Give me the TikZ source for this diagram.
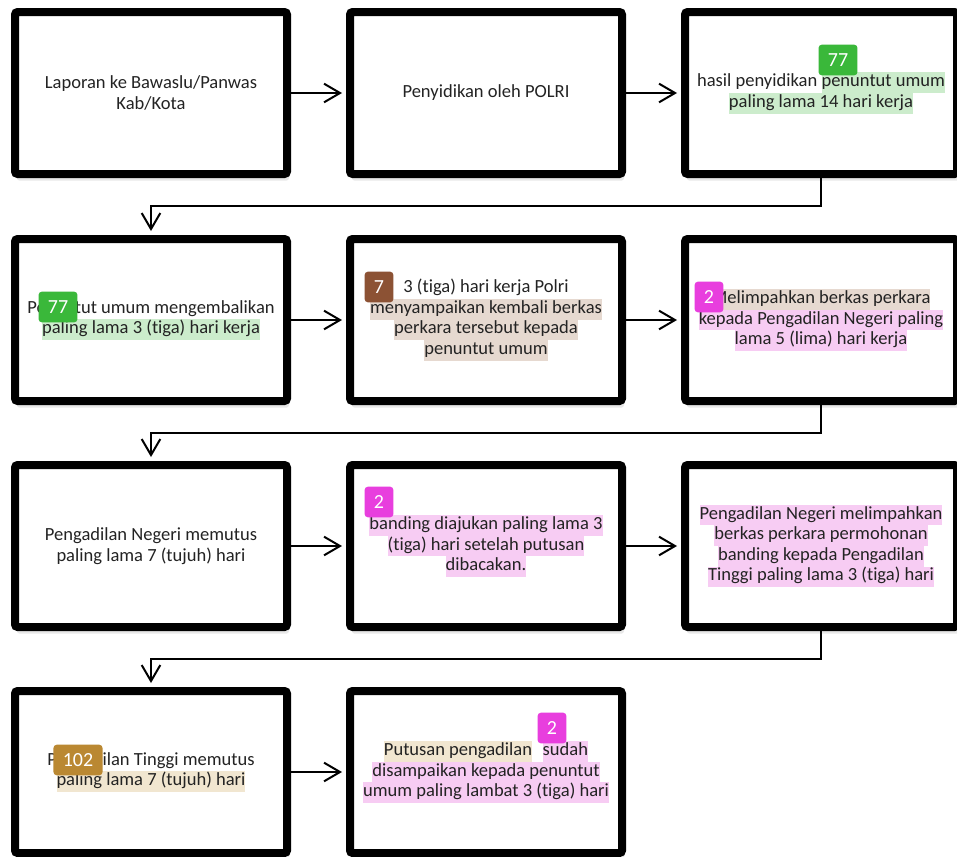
\documentclass[tikz,border=0pt]{standalone}
\usepackage{fontspec}
\setmainfont{Carlito}[Ligatures=NoCommon]
\usepackage{xcolor}
\usepackage{tikz}
\usetikzlibrary{positioning,arrows.meta,shadows}
\definecolor{tandahijau}{RGB}{58,184,58}
\definecolor{tandacoklat}{RGB}{140,82,52}
\definecolor{tandaungu}{RGB}{232,62,222}
\definecolor{tandaemas}{RGB}{186,136,50}
\definecolor{sorothijau}{RGB}{204,236,204}
\definecolor{sorotcoklat}{RGB}{230,217,208}
\definecolor{sorotungu}{RGB}{247,204,243}
\definecolor{sorotemas}{RGB}{241,230,208}
\definecolor{teks}{RGB}{35,35,35}
\newcommand{\sorot}[2]{{\setlength{\fboxsep}{0pt}\colorbox{#1}{\strut #2}}}

\begin{document}
\begin{tikzpicture}[
	x=0.75pt, y=-0.75pt,
	langkah/.style={ % kotak tahapan
		draw=black, line width=6pt,
		rounded corners=2pt, fill=white,
		minimum width=204pt, minimum height=121.5pt,
		align=center, text=teks, inner xsep=2pt,
		font=\fontsize{13.9}{15.4}\selectfont,
		drop shadow={shadow xshift=1.5pt, shadow yshift=-5pt, opacity=0.18}
	},
	tanda/.style={ % label angka berwarna
		rounded corners=2.5pt, text=white,
		inner xsep=7pt, inner ysep=0pt,
		minimum height=23pt, minimum width=19.5pt,
		font=\fontsize{15}{15}\selectfont
	},
	panah/.style={ % panah antar tahapan
		-{Straight Barb[length=12pt,width=14pt]},
		line width=1.5pt, shorten >=3pt
	}
	]
	\useasboundingbox (0,0) rectangle (957,857);
	
	% ================= BARIS 1 =================
	\node[langkah] (b11) at (151,93) {Laporan ke Bawaslu/Panwas\\Kab/Kota};
	\node[langkah] (b12) at (486,93) {Penyidikan oleh POLRI};
	\node[langkah] (b13) at (821,93) {hasil penyidikan \sorot{sorothijau}{penuntut umum}\\\sorot{sorothijau}{paling lama 14 hari kerja}};
	\draw[panah] (b11) -- (b12);
	\draw[panah] (b12) -- (b13);
	
	% ================= BARIS 2 =================
	\node[langkah] (b21) at (151,320) {Penuntut umum mengembalikan\\\sorot{sorothijau}{paling lama 3 (tiga) hari kerja}};
	\node[langkah] (b22) at (486,320) {3 (tiga) hari kerja Polri\\\sorot{sorotcoklat}{menyampaikan kembali berkas}\\\sorot{sorotcoklat}{perkara tersebut kepada}\\\sorot{sorotcoklat}{penuntut umum}};
	\node[langkah] (b23) at (821,320) {\sorot{sorotcoklat}{Melimpahkan berkas perkara}\\\sorot{sorotungu}{kepada Pengadilan Negeri paling}\\\sorot{sorotungu}{lama 5 (lima) hari kerja}};
	\draw[panah] (b13.south) -- ++(0,28) -| (b21.north);
	\draw[panah] (b21) -- (b22);
	\draw[panah] (b22) -- (b23);
	
	% ================= BARIS 3 =================
	\node[langkah] (b31) at (151,546) {Pengadilan Negeri memutus\\paling lama 7 (tujuh) hari};
	\node[langkah] (b32) at (486,546) {\sorot{sorotungu}{banding diajukan paling lama 3}\\\sorot{sorotungu}{(tiga) hari setelah putusan}\\\sorot{sorotungu}{dibacakan.}};
	\node[langkah] (b33) at (821,546) {\sorot{sorotungu}{Pengadilan Negeri melimpahkan}\\\sorot{sorotungu}{berkas perkara permohonan}\\\sorot{sorotungu}{banding kepada Pengadilan}\\\sorot{sorotungu}{Tinggi paling lama 3 (tiga) hari}};
	\draw[panah] (b23.south) -- ++(0,28) -| (b31.north);
	\draw[panah] (b31) -- (b32);
	\draw[panah] (b32) -- (b33);
	
	% ================= BARIS 4 =================
	\node[langkah] (b41) at (151,772) {Pengadilan Tinggi memutus\\\sorot{sorotemas}{paling lama 7 (tujuh) hari}};
	\node[langkah] (b42) at (486,772) {\sorot{sorotemas}{Putusan pengadilan}\hspace{8pt}\sorot{sorotungu}{sudah}\\\sorot{sorotungu}{disampaikan kepada penuntut}\\\sorot{sorotungu}{umum paling lambat 3 (tiga) hari}};
	\draw[panah] (b33.south) -- ++(0,28) -| (b41.north);
	\draw[panah] (b41) -- (b42);
	
	% Label angka di atas teks
	\node[tanda, fill=tandahijau]  (t1) at (838,60)  {77};
	\node[tanda, fill=tandahijau]  (t2) at (58,307)  {77};
	\node[tanda, fill=tandacoklat] (t3) at (379,287) {7};
	\node[tanda, fill=tandaungu]   (t4) at (709,297) {2};
	\node[tanda, fill=tandaungu]   (t5) at (379,502) {2};
	\node[tanda, fill=tandaemas]   (t6) at (78,760)  {102};
	\node[tanda, fill=tandaungu]   (t7) at (552,728) {2};
	
\end{tikzpicture}
\end{document}
